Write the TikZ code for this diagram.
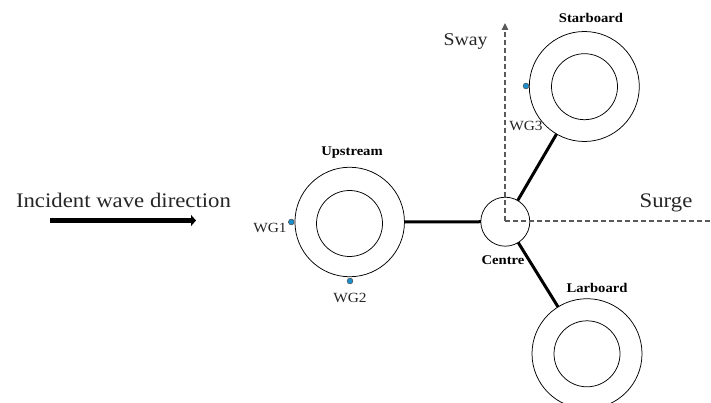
\documentclass[tikz,border=0pt]{standalone}
\usepackage{fontspec}
\setmainfont[FakeStretch=1.1]{Liberation Serif}
\usetikzlibrary{arrows.meta}
\definecolor{axisgray}{HTML}{595959}
\definecolor{probeblue}{HTML}{1B8FCB}
\tikzset{
  ring/.style={circle,draw=black,line width=0.75pt,minimum size=#1,inner sep=0pt,outer sep=0pt},
  strut/.style={draw=black,line width=3pt},
  axisline/.style={draw=axisgray,line width=1.2pt,dash pattern=on 5pt off 3pt},
  probe/.style={circle,draw=black!70,fill=probeblue,line width=0.5pt,minimum size=5.8pt,inner sep=0pt},
  tagtext/.style={font=\fontsize{14}{16}\selectfont,text=black!85,inner sep=0pt},
  nametext/.style={font=\fontsize{13.3}{15}\selectfont\bfseries,inner sep=0pt},
  bigtext/.style={font=\fontsize{20.7}{24}\selectfont,text=black!85,inner sep=0pt},
  swaytext/.style={font=\fontsize{18}{21}\selectfont,text=black!85,inner sep=0pt}
}
\begin{document}
\begin{tikzpicture}[x=1pt,y=-1pt]
\useasboundingbox (0,0) rectangle (711,403);
\clip (0,0) rectangle (711,403);
\node[ring=109.5pt] (up) at (349.7,222) {};
\node[ring=66pt] (upin) at (349.5,223.5) {};
\node[ring=110pt] (star) at (584.3,86.5) {};
\node[ring=66pt] (starin) at (584.5,86.7) {};
\node[ring=110pt] (lar) at (587,353.7) {};
\node[ring=66pt] (larin) at (587,353.8) {};
\node[ring=49pt] (centre) at (505.3,221.7) {};
\draw[strut] (up) -- (centre);
\draw[strut] (centre) -- (star);
\draw[strut] (centre) -- (lar);
\coordinate (origin) at (505,221);
\coordinate (swayend) at (505,23);
\coordinate (surgeend) at (711,221);
\draw[axisline,-{Triangle[length=7pt,width=6.5pt]}] (origin) -- (swayend);
\draw[axisline] (origin) -- (surgeend);
\coordinate (wavestart) at (50,220.5);
\coordinate (waveend) at (196,220.5);
\draw[line width=4.5pt,-{Triangle[length=5pt,width=11pt]}] (wavestart) -- (waveend);
\node[probe] (p1) at (291.3,222) {};
\node[probe] (p2) at (350,281) {};
\node[probe] (p3) at (526,86) {};
\node[bigtext] (inc) at (123.5,200) {Incident wave direction};
\node[swaytext] (sway) at (465.5,41) {Sway};
\node[bigtext] (surge) at (666,203) {Surge};
\node[tagtext] (wg1) at (270,227.5) {WG1};
\node[tagtext] (wg2) at (350,298) {WG2};
\node[tagtext] (wg3) at (526,125.5) {WG3};
\node[nametext] (nup) at (352,152.5) {Upstream};
\node[nametext] (nstar) at (591,18) {Starboard};
\node[nametext] (nlar) at (597,288) {Larboard};
\node[nametext] (ncen) at (503,260) {Centre};
\end{tikzpicture}
\end{document}
